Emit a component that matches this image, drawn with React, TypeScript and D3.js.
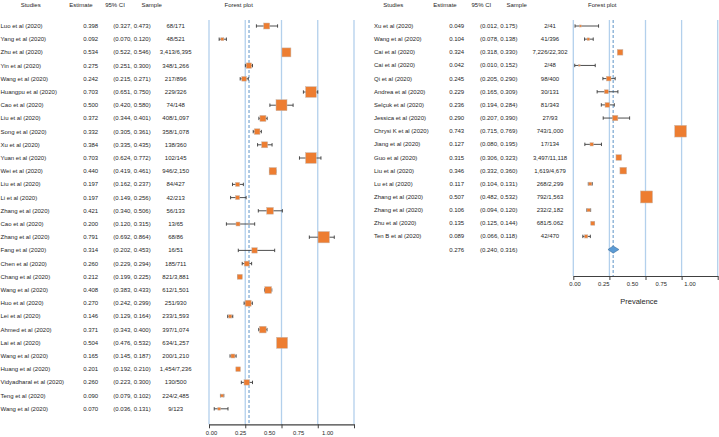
import React, { useEffect, useRef } from 'react';
import * as d3 from 'd3';

// left table
const leftStudies = [
  'Luo et al (2020)', 'Yang et al (2020)', 'Zhu et al (2020)', 'Yin et al (2020)', 'Wang et al (2020)',
  'Huangpu et al (2020)', 'Cao et al (2020)', 'Liu et al (2020)', 'Song et al (2020)', 'Xu et al (2020)',
  'Yuan et al (2020)', 'Wei et al (2020)', 'Liu et al (2020)', 'Li et al (2020)', 'Zhang et al (2020)',
  'Cao et al (2020)', 'Zhang et al (2020)', 'Fang et al (2020)', 'Chen et al (2020)', 'Chang et al (2020)',
  'Wang et al (2020)', 'Huo et al (2020)', 'Lei et al (2020)', 'Ahmed et al (2020)', 'Lai et al (2020)',
  'Wang et al (2020)', 'Huang et al (2020)', 'Vidyadharal et al (2020)', 'Teng et al (2020)', 'Wang et al (2020)',
];
const leftEstimates = [0.398, 0.092, 0.534, 0.275, 0.242, 0.703, 0.5, 0.372, 0.332, 0.384, 0.703, 0.44, 0.197, 0.197, 0.421, 0.2, 0.791, 0.314, 0.26, 0.212, 0.408, 0.27, 0.146, 0.371, 0.504, 0.165, 0.201, 0.26, 0.09, 0.07];
const leftLower = [0.327, 0.07, 0.522, 0.251, 0.215, 0.651, 0.42, 0.344, 0.305, 0.335, 0.624, 0.419, 0.162, 0.149, 0.34, 0.12, 0.692, 0.202, 0.229, 0.199, 0.383, 0.242, 0.129, 0.343, 0.476, 0.145, 0.192, 0.223, 0.079, 0.036];
const leftUpper = [0.473, 0.12, 0.546, 0.3, 0.271, 0.75, 0.58, 0.401, 0.361, 0.435, 0.772, 0.461, 0.237, 0.256, 0.506, 0.315, 0.864, 0.453, 0.294, 0.225, 0.433, 0.299, 0.164, 0.4, 0.532, 0.187, 0.21, 0.3, 0.102, 0.131];
const leftSamples = [
  '68/171', '48/521', '3,413/6,395', '348/1,266', '217/896', '229/326', '74/148', '408/1,097', '358/1,078', '138/360',
  '102/145', '946/2,150', '84/427', '42/213', '56/133', '13/65', '68/86', '16/51', '185/711', '821/3,881',
  '612/1,501', '251/930', '233/1,593', '397/1,074', '634/1,257', '200/1,210', '1,454/7,236', '130/500', '224/2,485', '9/123',
];
const leftWeights = [2.5, 0.6, 5.6, 2.0, 1.5, 7.9, 8.4, 2.5, 2.2, 2.5, 7.9, 3.7, 1.1, 1.1, 3.1, 1.1, 8.9, 2.0, 1.7, 1.7, 3.1, 2.5, 0.75, 3.1, 8.4, 1.1, 1.5, 2.0, 0.6, 0.5];

// right table
const rightStudies = [
  'Xu et al (2020)', 'Wang et al (2020)', 'Cai et al (2020)', 'Cai et al (2020)', 'Qi et al (2020)',
  'Andrea et al (2020)', 'Selçuk et al (2020)', 'Jessica et al (2020)', 'Chrysi K et al (2020)', 'Jiang et al (2020)',
  'Guo et al (2020)', 'Liu et al (2020)', 'Lu et al (2020)', 'Zhang et al (2020)', 'Zhang et al (2020)',
  'Zhu et al (2020)', 'Ten B et al (2020)',
];
const rightEstimates = [0.049, 0.104, 0.324, 0.042, 0.245, 0.229, 0.236, 0.29, 0.743, 0.127, 0.315, 0.346, 0.117, 0.507, 0.106, 0.135, 0.089];
const rightLower = [0.012, 0.078, 0.318, 0.01, 0.205, 0.165, 0.194, 0.207, 0.715, 0.08, 0.306, 0.332, 0.104, 0.482, 0.094, 0.125, 0.066];
const rightUpper = [0.175, 0.138, 0.33, 0.152, 0.29, 0.309, 0.284, 0.39, 0.769, 0.195, 0.323, 0.36, 0.131, 0.532, 0.12, 0.144, 0.118];
const rightSamples = [
  '2/41', '41/396', '7,226/22,302', '2/48', '98/400', '30/131', '81/343', '27/93', '743/1,000', '17/134',
  '3,497/11,118', '1,619/4,679', '268/2,299', '792/1,563', '232/2,182', '681/5.062', '42/470',
];
const rightWeights = [0.3, 0.45, 2.2, 0.16, 1.5, 1.1, 1.5, 2.0, 9.5, 0.75, 2.2, 3.1, 0.75, 10, 0.75, 1.1, 0.75];

const pooledEstimate = 0.276;
const pooledLower = 0.24;
const pooledUpper = 0.316;

const tickValues = [0, 0.25, 0.5, 0.75, 1];
const headers = ['Studies', 'Estimate', '95% CI', 'Sample', 'Forest plot'];

const FONT = '"Liberation Sans", Arial, sans-serif';
const TEXT = '#262626';
const ORANGE = '#ED7D31';
const GRID = '#b3d0ec';
const BLUE = '#5B9BD5';

const drawPanel = (svg, p) => {
  const n = p.studies.length + (p.pooled ? 1 : 0);
  const y = d3.scalePoint().domain(d3.range(n)).range([26, 26 + (n - 1) * p.step]);
  const x = d3.scaleLinear().domain([0, 1]).range(p.plotRange);
  const xLabel = d3.scaleLinear().domain([0, 1]).range(p.labelRange);
  const side = d3.scaleSqrt().domain([0, 10]).range([0, 12]);
  const fmt = d3.format('.3f');

  const g = svg.append('g').style('font-family', FONT).style('font-size', '6px').attr('fill', TEXT);

  g.selectAll('text.header')
    .data(headers)
    .join('text')
    .attr('class', 'header')
    .attr('x', (d, i) => p.headerX[i])
    .attr('y', 7)
    .attr('text-anchor', 'middle')
    .text(d => d);

  // grid lines
  g.append('g')
    .selectAll('line')
    .data(tickValues)
    .join('line')
    .attr('x1', d => x(d))
    .attr('x2', d => x(d))
    .attr('y1', 20)
    .attr('y2', p.axisY)
    .attr('stroke', GRID)
    .attr('stroke-width', 1.3);

  g.append('line')
    .attr('x1', x(pooledEstimate))
    .attr('x2', x(pooledEstimate))
    .attr('y1', 20)
    .attr('y2', p.axisY)
    .attr('stroke', '#4a86c0')
    .attr('stroke-width', 0.9)
    .attr('stroke-dasharray', '3,2');

  const rows = p.studies.map((s, i) => ({
    name: s, est: p.estimates[i], lo: p.lower[i], hi: p.upper[i], sample: p.samples[i], w: p.weights[i],
  }));

  const row = g.selectAll('g.row').data(rows).join('g').attr('class', 'row');
  row.append('text').attr('x', p.nameX).attr('y', (d, i) => y(i) + 2).text(d => d.name);
  row.append('text').attr('x', p.estX).attr('y', (d, i) => y(i) + 2).attr('text-anchor', 'middle').text(d => fmt(d.est));
  row.append('text').attr('x', p.ciX).attr('y', (d, i) => y(i) + 2).attr('text-anchor', 'middle')
    .text(d => `(${fmt(d.lo)}, ${fmt(d.hi)})`);
  row.append('text').attr('x', p.sampleX).attr('y', (d, i) => y(i) + 2).attr('text-anchor', 'middle').text(d => d.sample);

  // whiskers
  const wk = row.append('g').attr('stroke', '#3a3a3a').attr('stroke-width', 0.9);
  wk.append('line').attr('x1', d => x(d.lo)).attr('x2', d => x(d.hi)).attr('y1', (d, i) => y(i)).attr('y2', (d, i) => y(i));
  wk.append('line').attr('x1', d => x(d.lo)).attr('x2', d => x(d.lo)).attr('y1', (d, i) => y(i) - 1.7).attr('y2', (d, i) => y(i) + 1.7);
  wk.append('line').attr('x1', d => x(d.hi)).attr('x2', d => x(d.hi)).attr('y1', (d, i) => y(i) - 1.7).attr('y2', (d, i) => y(i) + 1.7);

  row.append('rect')
    .attr('x', d => x(d.est) - side(d.w) / 2)
    .attr('y', (d, i) => y(i) - side(d.w) / 2)
    .attr('width', d => side(d.w))
    .attr('height', d => side(d.w))
    .attr('fill', ORANGE)
    .attr('stroke', '#c8b8ad')
    .attr('stroke-width', 0.5);

  if (p.pooled) {
    const py = y(n - 1);
    g.append('text').attr('x', p.estX).attr('y', py + 2).attr('text-anchor', 'middle').text(fmt(pooledEstimate));
    g.append('text').attr('x', p.ciX).attr('y', py + 2).attr('text-anchor', 'middle')
      .text(`(${fmt(pooledLower)}, ${fmt(pooledUpper)})`);
    const diamond = d3.line()([
      [x(pooledLower), py], [x(pooledEstimate), py - 3.6], [x(pooledUpper), py], [x(pooledEstimate), py + 3.6],
    ]) + 'Z';
    g.append('path').attr('d', diamond).attr('fill', BLUE).attr('stroke', '#41719C').attr('stroke-width', 0.6);
  }

  // axis
  const axis = g.append('g')
    .attr('transform', `translate(0,${p.axisY})`)
    .call(d3.axisBottom(x).tickValues(tickValues).tickFormat(() => '').tickSize(4).tickSizeOuter(0));
  axis.select('.domain').attr('stroke', '#404040').attr('stroke-width', 1.2);
  axis.selectAll('.tick line').attr('stroke', '#404040').attr('stroke-width', 1);

  g.append('g')
    .selectAll('text')
    .data(tickValues)
    .join('text')
    .attr('x', d => xLabel(d))
    .attr('y', p.axisY + 10.3)
    .attr('text-anchor', 'middle')
    .style('font-size', '5.8px')
    .text(d => d3.format('.2f')(d));

  if (p.xTitle) {
    g.append('text')
      .attr('x', (p.plotRange[0] + p.plotRange[1]) / 2 - 6.5)
      .attr('y', p.axisY + 27.5)
      .attr('text-anchor', 'middle')
      .style('font-size', '7.5px')
      .text(p.xTitle);
  }
};

const App = () => {
  const svgRef = useRef(null);

  useEffect(() => {
    const svg = d3.select(svgRef.current);
    svg.selectAll('*').remove();

    drawPanel(svg, {
      studies: leftStudies, estimates: leftEstimates, lower: leftLower, upper: leftUpper,
      samples: leftSamples, weights: leftWeights, pooled: false,
      step: 13.2, nameX: 0.5, estX: 90.7, ciX: 132, sampleX: 175.7,
      headerX: [30.7, 81, 115, 151.7, 238.7],
      plotRange: [209, 354], labelRange: [211.5, 327.7], axisY: 424.3,
    });

    drawPanel(svg, {
      studies: rightStudies, estimates: rightEstimates, lower: rightLower, upper: rightUpper,
      samples: rightSamples, weights: rightWeights, pooled: true,
      step: 13.15, nameX: 374, estX: 456.7, ciX: 498.7, sampleX: 550,
      headerX: [393.3, 445, 481.3, 516.7, 602.3],
      plotRange: [573.3, 717.7], labelRange: [575, 690], axisY: 276, xTitle: 'Prevalence',
    });
  }, []);

  return (
    <svg
      ref={svgRef}
      width={719}
      height={437}
      style={{ position: 'absolute', left: 0, top: 0, background: '#fff' }}
    />
  );
};

export default App;
